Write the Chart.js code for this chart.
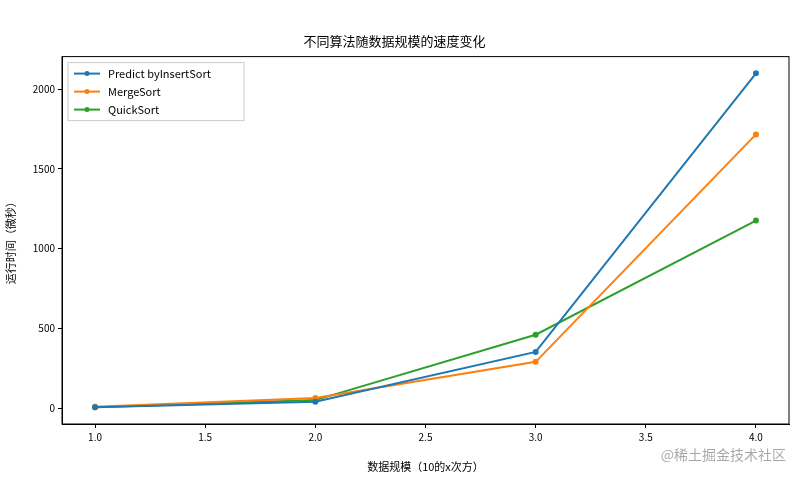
<!DOCTYPE html>
<html><head><meta charset="utf-8">
<script src="https://cdn.jsdelivr.net/npm/chart.js@4"></script>
<style>body{margin:0;background:#fff}</style>
</head><body><canvas id="c" width="797" height="477"></canvas>
<script>
const xs = [1, 2, 3, 4];
const xTicks = [1.0, 1.5, 2.0, 2.5, 3.0, 3.5, 4.0];
const yTicks = [0, 500, 1000, 1500, 2000];
const predictInsert = [5, 40, 352, 2100];
const mergeSort = [8, 63, 290, 1717];
const quickSort = [5, 50, 460, 1176];
const names = ["Predict byInsertSort", "MergeSort", "QuickSort"];
const colors = ["#1f77b4", "#ff7f0e", "#2ca02c"];
const FONT = "'Noto Sans CJK SC', 'DejaVu Sans Mono'";

const mk = (vals, i) => ({
  label: names[i],
  data: vals.map((v, k) => ({x: xs[k], y: v})),
  borderColor: colors[i], backgroundColor: colors[i],
  borderWidth: 2, pointRadius: 2, pointHoverRadius: 2, tension: 0
});

const frame = {
  id: "frame",
  afterDraw(chart) {
    const {ctx, chartArea: a} = chart;
    ctx.save();
    ctx.strokeStyle = "#000"; ctx.lineWidth = 1;
    ctx.strokeRect(a.left, a.top, a.right - a.left, a.bottom - a.top);
    // legend box
    const x0 = a.left + 6, y0 = a.top + 6, w = 176, h = 58;
    ctx.fillStyle = "rgba(255,255,255,0.8)";
    ctx.strokeStyle = "#ccc";
    ctx.fillRect(x0, y0, w, h); ctx.strokeRect(x0, y0, w, h);
    ctx.font = "11px " + FONT; ctx.textBaseline = "middle";
    chart.data.datasets.forEach((d, i) => {
      const y = y0 + 11 + i * 18;
      ctx.strokeStyle = d.borderColor; ctx.lineWidth = 2;
      ctx.beginPath(); ctx.moveTo(x0 + 6, y); ctx.lineTo(x0 + 32, y); ctx.stroke();
      ctx.fillStyle = d.borderColor;
      ctx.beginPath(); ctx.arc(x0 + 19, y, 2.5, 0, Math.PI * 2); ctx.fill();
      ctx.fillStyle = "#000"; ctx.fillText(d.label, x0 + 40, y);
    });
    ctx.fillStyle = "rgba(0,0,0,0.35)"; ctx.font = "14px " + FONT;
    ctx.textAlign = "right"; ctx.fillText("@稀土掘金技术社区", 786, 455);
    ctx.restore();
  }
};

new Chart(document.getElementById("c"), {
  type: "line",
  data: {datasets: [mk(predictInsert, 0), mk(mergeSort, 1), mk(quickSort, 2)]},
  options: {
    responsive: false, animation: false, devicePixelRatio: 1,
    layout: {padding: {left: 0, right: 8, top: 0, bottom: 0}},
    plugins: {
      legend: {display: false}, tooltip: {enabled: false},
      title: {display: true, text: "不同算法随数据规模的速度变化", color: "#000",
        font: {family: FONT, size: 13, weight: "normal"}, padding: {top: 33, bottom: 8}}
    },
    scales: {
      x: {
        type: "linear", min: 0.85, max: 4.15,
        afterBuildTicks: s => { s.ticks = xTicks.map(v => ({value: v})); },
        afterFit: s => { s.height = 53; },
        grid: {drawOnChartArea: false, tickLength: 4, color: "#000"},
        border: {color: "#000"},
        ticks: {color: "#000", font: {family: FONT, size: 10}, maxRotation: 0, callback: v => v.toFixed(1)},
        title: {display: true, text: "数据规模（10的x次方）", color: "#000", font: {family: FONT, size: 11}, padding: {top: 2}}
      },
      y: {
        min: -100, max: 2205,
        afterBuildTicks: s => { s.ticks = yTicks.map(v => ({value: v})); },
        afterFit: s => { s.width = 62; },
        grid: {drawOnChartArea: false, tickLength: 4, color: "#000"},
        border: {color: "#000"},
        ticks: {color: "#000", font: {family: FONT, size: 10}, callback: v => String(v)},
        title: {display: true, text: "运行时间（微秒）", color: "#000", font: {family: FONT, size: 11}}
      }
    }
  },
  plugins: [frame]
});
</script></body></html>
